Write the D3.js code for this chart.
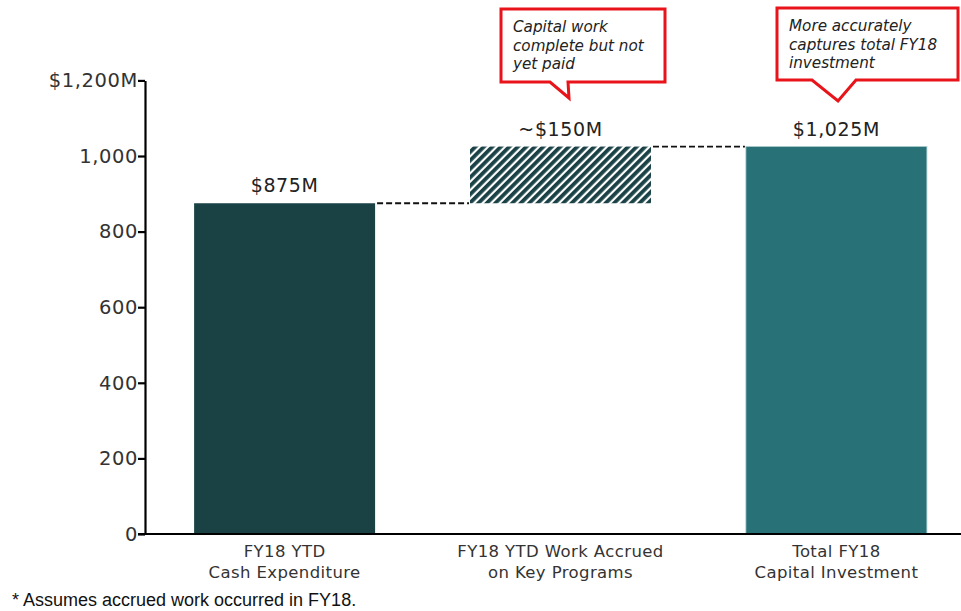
<!doctype html>
<html>
<head>
<script src="https://cdnjs.cloudflare.com/ajax/libs/d3/7.8.5/d3.min.js"></script>
<style>
body { margin: 0; background: #fff; }
svg { display: block; }
</style>
</head>
<body>
<svg id="chart" width="961" height="611"></svg>
<script>
// chart values
var categories = ["FY18 YTD|Cash Expenditure", "FY18 YTD Work Accrued|on Key Programs", "Total FY18|Capital Investment"];
var barBase = [0, 875, 0];
var barTop = [875, 1025, 1025];
var valueLabels = ["$875M", "~$150M", "$1,025M"];
var yTicks = [0, 200, 400, 600, 800, 1000, 1200];
var yTickLabels = ["0", "200", "400", "600", "800", "1,000", "$1,200M"];
var callouts = [
  { bar: 1, lines: ["Capital work", "complete but not", "yet paid"] },
  { bar: 2, lines: ["More accurately", "captures total FY18", "investment"] }
];
var footnote = "* Assumes accrued work occurred in FY18.";

var svg = d3.select("#chart");
var font = "'DejaVu Sans', sans-serif";

var x = d3.scaleBand()
  .domain(d3.range(categories.length))
  .range([145, 976])
  .paddingInner(0.344)
  .paddingOuter(0.178);

var y = d3.scaleLinear().domain([0, 1200]).range([534, 80.4]);

// hatch pattern
var defs = svg.append("defs");
var pat = defs.append("pattern")
  .attr("id", "hatch")
  .attr("patternUnits", "userSpaceOnUse")
  .attr("width", 6).attr("height", 6)
  .attr("patternTransform", "rotate(45)");
pat.append("rect").attr("width", 6).attr("height", 6).attr("fill", "#fff");
pat.append("rect").attr("width", 3.8).attr("height", 6).attr("fill", "#1a4246");

var fills = ["#1a4245", "url(#hatch)", "#277177"];

svg.selectAll("rect.bar")
  .data(categories)
  .enter().append("rect")
  .attr("class", "bar")
  .attr("x", (d, i) => x(i))
  .attr("width", x.bandwidth())
  .attr("y", (d, i) => y(barTop[i]))
  .attr("height", (d, i) => y(barBase[i]) - y(barTop[i]))
  .attr("fill", (d, i) => fills[i])
  .attr("stroke", (d, i) => i === 2 ? "#a9c9cc" : "none")
  .attr("stroke-width", 0.8);

// connectors
for (var i = 0; i < categories.length - 1; i++) {
  svg.append("line")
    .attr("x1", x(i) + x.bandwidth() + 2)
    .attr("x2", x(i + 1) - 1)
    .attr("y1", y(barTop[i]))
    .attr("y2", y(barTop[i]))
    .attr("stroke", "#111")
    .attr("stroke-width", 1.8)
    .attr("stroke-dasharray", "6,3");
}

// value labels
svg.selectAll("text.val")
  .data(valueLabels)
  .enter().append("text")
  .attr("class", "val")
  .attr("x", (d, i) => x(i) + x.bandwidth() / 2)
  .attr("y", (d, i) => y(barTop[i]) - 11)
  .attr("text-anchor", "middle")
  .attr("font-family", font)
  .attr("font-size", 19)
  .attr("letter-spacing", 0.6)
  .attr("fill", "#222")
  .text(d => d);

// y axis
var yAxis = d3.axisLeft(y)
  .tickValues(yTicks)
  .tickFormat((d, i) => yTickLabels[i])
  .tickSize(7)
  .tickSizeOuter(0);
var gy = svg.append("g").attr("transform", "translate(145,0)").call(yAxis);
gy.select(".domain").attr("stroke", "#000").attr("stroke-width", 2.2);
gy.selectAll(".tick line").attr("stroke", "#000").attr("stroke-width", 2.2);
gy.selectAll(".tick text")
  .attr("font-family", font)
  .attr("font-size", 19.5)
  .attr("letter-spacing", 0.6)
  .attr("fill", "#333")
  .attr("x", -7);

// x axis line
svg.append("line")
  .attr("x1", 138).attr("x2", 961)
  .attr("y1", y(0)).attr("y2", y(0))
  .attr("stroke", "#000").attr("stroke-width", 2.2);

// category labels
var cat = svg.selectAll("text.cat")
  .data(categories)
  .enter().append("text")
  .attr("class", "cat")
  .attr("text-anchor", "middle")
  .attr("font-family", font)
  .attr("font-size", 16.5)
  .attr("letter-spacing", 0.4)
  .attr("fill", "#333");
cat.each(function(d, i) {
  var t = d3.select(this);
  d.split("|").forEach(function(line, j) {
    t.append("tspan")
      .attr("x", x(i) + x.bandwidth() / 2)
      .attr("y", 557 + j * 21)
      .text(line);
  });
});

// callouts
var boxes = [
  { x0: 501, x1: 665, y0: 9, y1: 82, tip: [569, 98], base: [550, 568] },
  { x0: 777, x1: 958, y0: 8, y1: 80, tip: [838, 101], base: [812, 856] }
];
callouts.forEach(function(c, k) {
  var b = boxes[k];
  var path = "M" + b.x0 + "," + b.y0 + "H" + b.x1 + "V" + b.y1 +
    "H" + b.base[1] + "L" + b.tip[0] + "," + b.tip[1] +
    "L" + b.base[0] + "," + b.y1 + "H" + b.x0 + "Z";
  svg.append("path")
    .attr("d", path)
    .attr("fill", "#fff")
    .attr("stroke", "#e8141a")
    .attr("stroke-width", 3)
    .attr("stroke-linejoin", "miter");
  var t = svg.append("text")
    .attr("font-family", font)
    .attr("font-style", "italic")
    .attr("font-size", 15.2)
    .attr("fill", "#222");
  c.lines.forEach(function(line, j) {
    t.append("tspan")
      .attr("x", b.x0 + 12)
      .attr("y", b.y0 + 23 + j * 18.5)
      .text(line);
  });
});

// footnote
svg.append("text")
  .attr("x", 12).attr("y", 606)
  .attr("font-family", "'Liberation Sans', Arial, sans-serif")
  .attr("font-size", 18)
  .attr("fill", "#111")
  .text(footnote);
</script>
</body>
</html>
